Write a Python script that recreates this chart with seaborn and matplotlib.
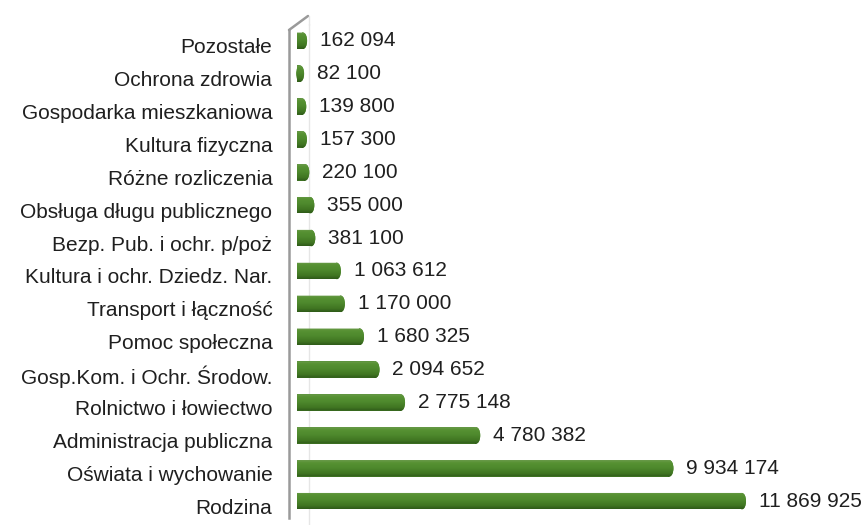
import matplotlib
matplotlib.use('Agg')

import numpy as np
import pandas as pd
import matplotlib.pyplot as plt
import seaborn as sns
from matplotlib.patches import Ellipse
from matplotlib.lines import Line2D
from matplotlib.path import Path
from matplotlib.colors import LinearSegmentedColormap
from matplotlib.transforms import ScaledTranslation

categories = ['Pozostałe', 'Ochrona zdrowia', 'Gospodarka mieszkaniowa',
              'Kultura fizyczna', 'Różne rozliczenia', 'Obsługa długu publicznego',
              'Bezp. Pub. i ochr. p/poż', 'Kultura i ochr. Dziedz. Nar.',
              'Transport i łączność', 'Pomoc społeczna', 'Gosp.Kom. i Ochr. Środow.',
              'Rolnictwo i łowiectwo', 'Administracja publiczna',
              'Oświata i wychowanie', 'Rodzina']
values = [162094, 82100, 139800, 157300, 220100, 355000, 381100, 1063612,
          1170000, 1680325, 2094652, 2775148, 4780382, 9934174, 11869925]

df = pd.DataFrame({'kat': categories, 'kwota': values})

sns.set_style('white')
plt.rcParams['font.family'] = ['Liberation Sans', 'DejaVu Sans']

W, H = 862, 525
fig = plt.figure(figsize=(W / 100, H / 100), dpi=100)
ax = fig.add_axes([289 / W, 1 - 524.85 / H, 1 - 289 / W, 500.5 / H])

green = '#4f8a2e'
bar_h = 0.5
sns.barplot(data=df, x='kwota', y='kat', orient='h', color=green,
            width=bar_h, saturation=1, ax=ax, linewidth=0)

# cylinder look: rounded end + vertical shading
x_per_px = 1 / 3.749e-5
cap_w = 8 * x_per_px
shade = LinearSegmentedColormap.from_list(
    'cyl', [(0, '#6c9c4c'), (0.15, '#579233'), (0.45, '#4e892d'),
            (0.8, '#407522'), (1, '#2f5a18')])
grad = np.linspace(0, 1, 60).reshape(-1, 1)
for i, (bar, v) in enumerate(zip(ax.containers[0], values)):
    cap = Ellipse((v, i), width=cap_w, height=bar_h,
                  facecolor=green, edgecolor='none', zorder=3)
    ax.add_patch(cap)
    clip = Path.make_compound_path(
        bar.get_path().transformed(bar.get_patch_transform()),
        cap.get_path().transformed(cap.get_patch_transform()))
    im = ax.imshow(grad, cmap=shade, aspect='auto', interpolation='bilinear',
                   extent=[0, v + cap_w, i + bar_h / 2, i - bar_h / 2], zorder=4)
    im.set_clip_path(clip, transform=ax.transData)

ax.set_xlim(-8 * x_per_px, (W - 297) * x_per_px)
ax.set_ylim(14.5, -0.5)

# back wall edge, behind the bars
ax.axvline(12 * x_per_px, color='#e6e6e6', lw=1, zorder=0.5)

labels = ax.bar_label(ax.containers[0],
                      labels=[f'{v:,}'.replace(',', ' ') for v in values],
                      padding=12, fontsize=15, color='#1f1f1f')
for t in labels:
    t.set_transform(t.get_transform() + ScaledTranslation(0, -3 / 100, fig.dpi_scale_trans))

ax.set_xlabel('')
ax.set_ylabel('')
ax.set_xticks([])
ax.tick_params(axis='y', which='major', length=0, pad=12, labelsize=15, labelcolor='#1f1f1f')
for t in ax.get_yticklabels():
    t.set_transform(t.get_transform() + ScaledTranslation(0, -5 / 100, fig.dpi_scale_trans))

ax.set_yticks(np.arange(-0.5, 15) + 0.22, minor=True)
ax.tick_params(axis='y', which='minor', length=5, width=1.2, color='#9a9a9a', direction='out')

for s in ['top', 'right', 'bottom']:
    ax.spines[s].set_visible(False)
ax.spines['left'].set_color('#9a9a9a')
ax.spines['left'].set_linewidth(1.8)
ax.spines['left'].set_bounds(14.5, -0.32)

# 3D wall top edge
fig.add_artist(Line2D([289 / W, 308 / W], [1 - 30 / H, 1 - 16 / H],
                      color='#9a9a9a', lw=1.8))
fig.add_artist(Line2D([309 / W, 309 / W], [1 - 16 / H, 1 - 25 / H],
                      color='#e6e6e6', lw=1))

fig.savefig('out.png', dpi=100)
